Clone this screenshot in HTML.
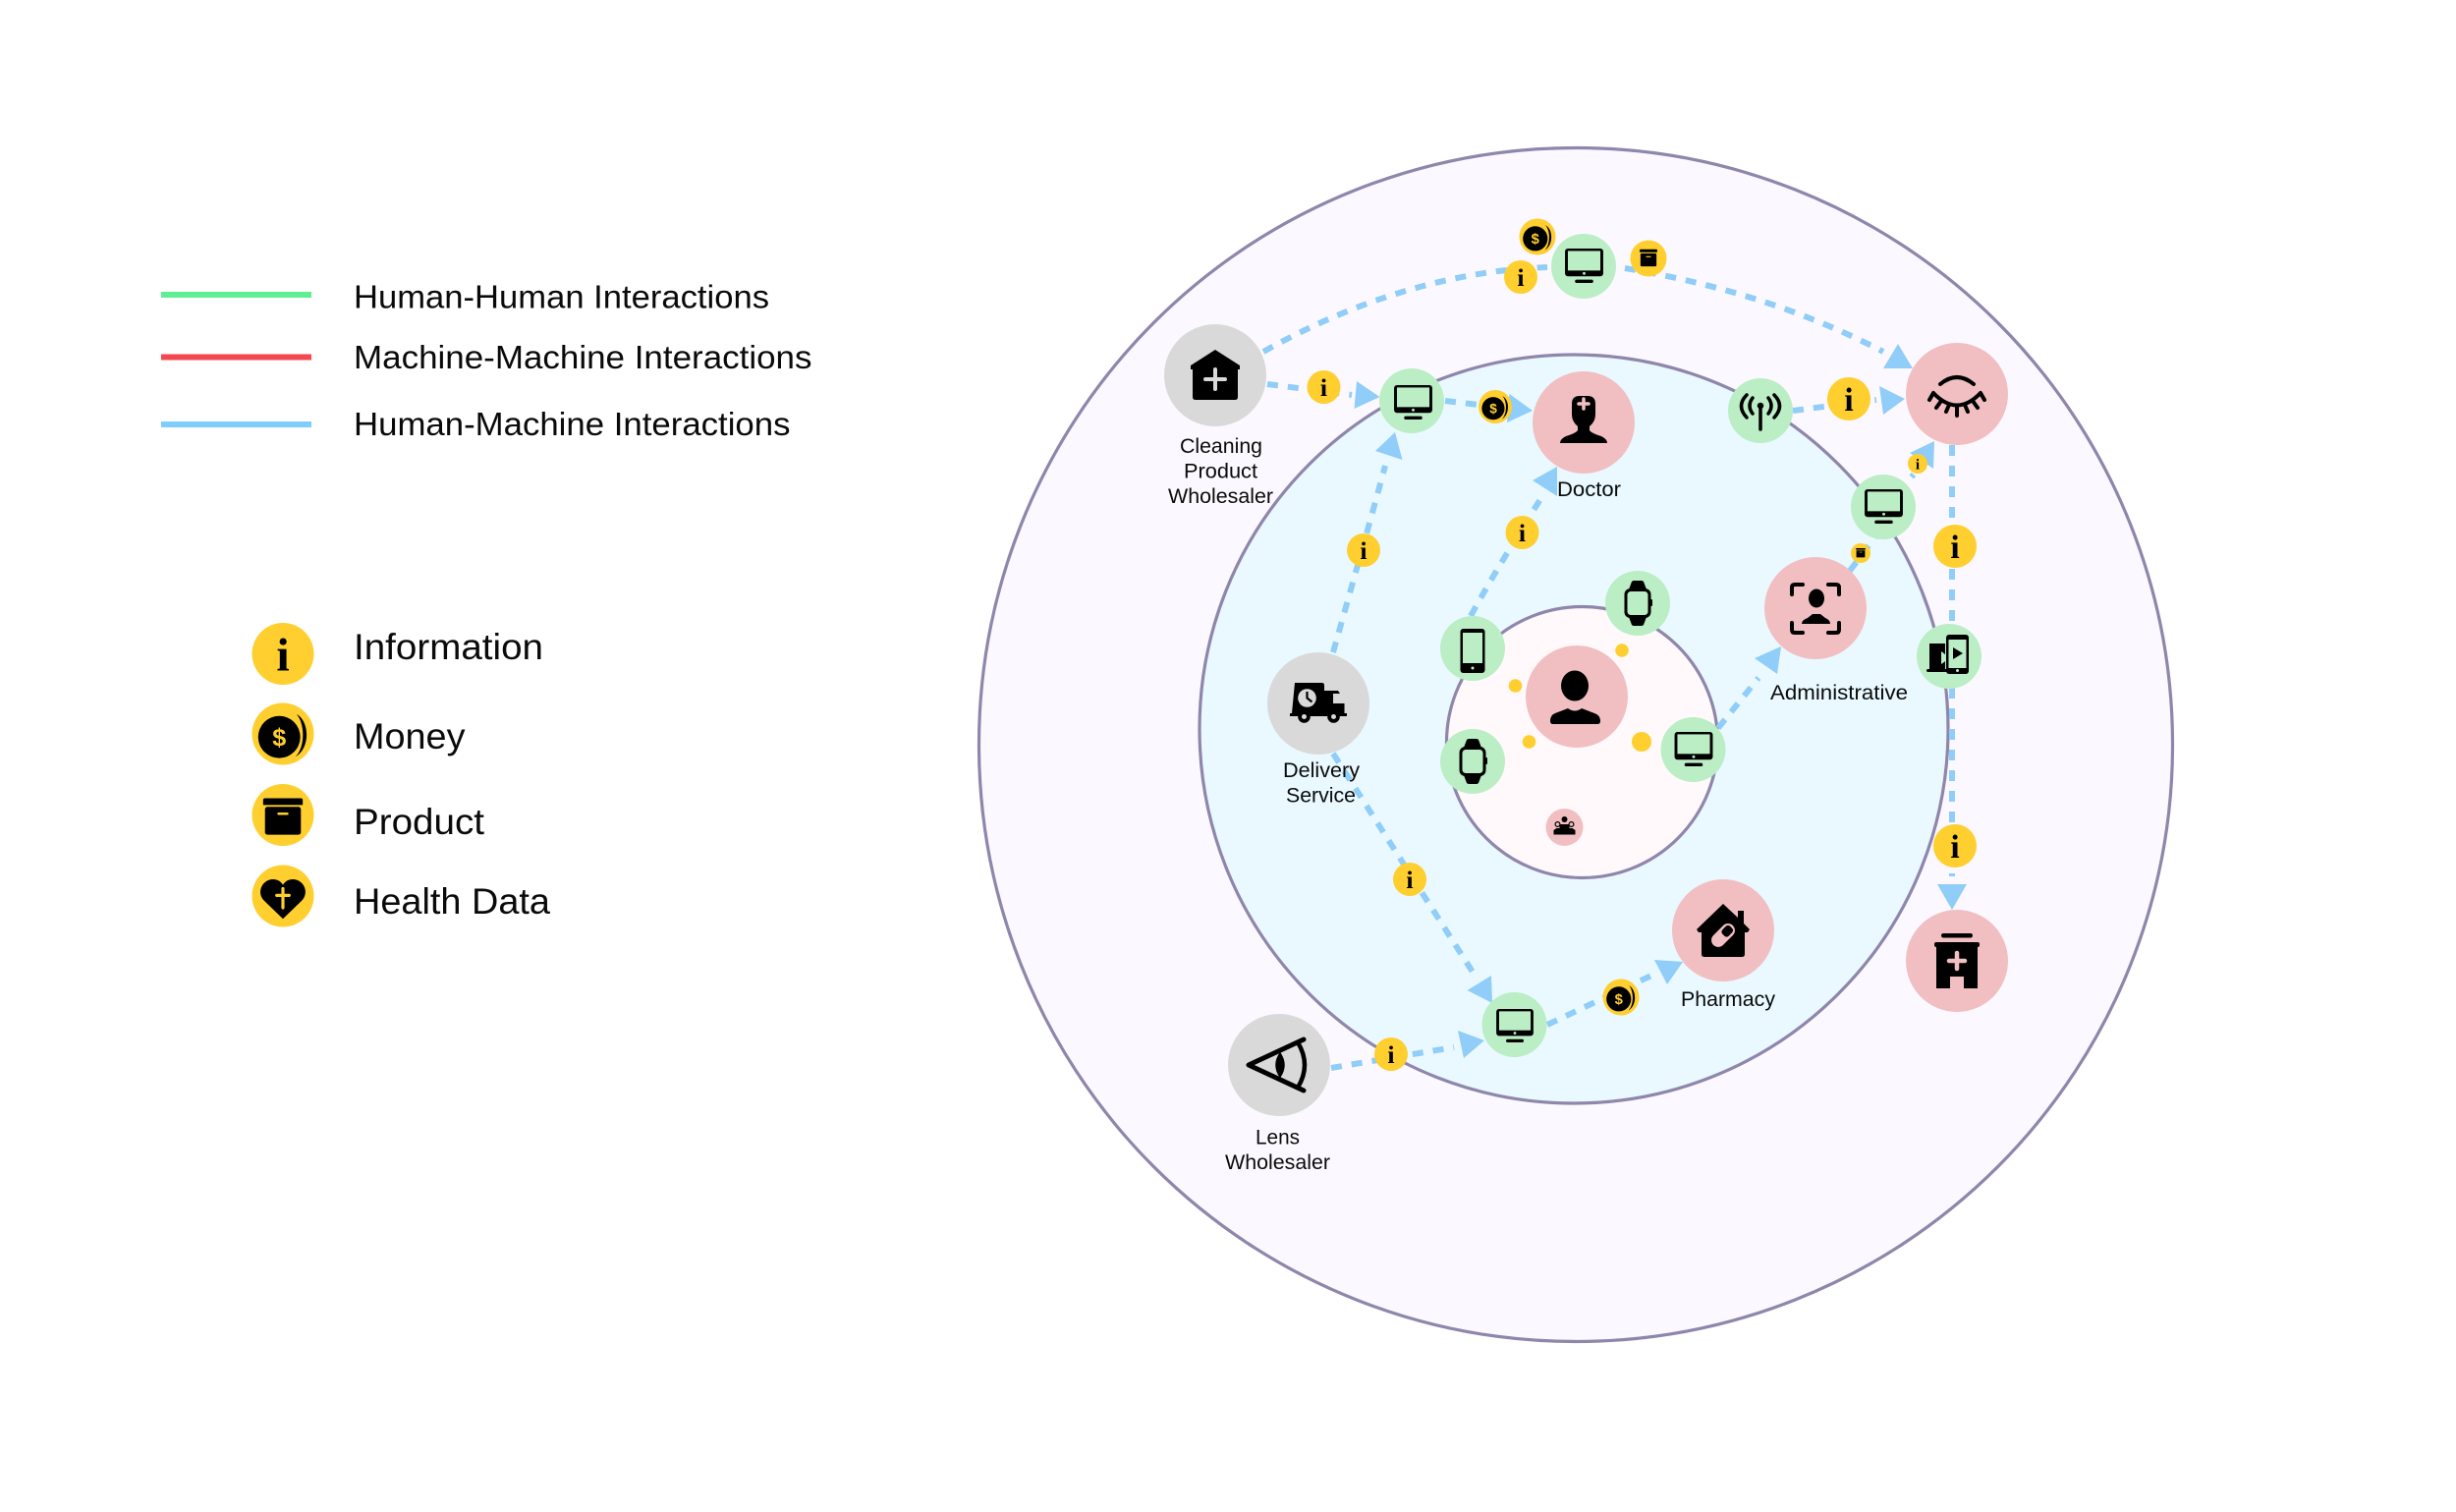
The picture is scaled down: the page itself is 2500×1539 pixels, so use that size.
<!DOCTYPE html>
<html><head><meta charset="utf-8"><style>
html,body{margin:0;padding:0;background:#fff}
svg{display:block}
text{font-family:"Liberation Sans",sans-serif;fill:#0a0a0a}
.leg{font-size:33px}.leg2{font-size:37px}.lb{font-size:21.5px}
.d{fill:none;stroke:#90cdf8;stroke-width:6;stroke-dasharray:11 10}
.a{fill:#90cdf8}
.ring{stroke:#8f86ab;stroke-width:3.2}
</style></head><body>
<svg width="2500" height="1539" viewBox="0 0 2500 1539" xmlns="http://www.w3.org/2000/svg">
<defs>
<symbol id="info" viewBox="-50 -50 100 100" overflow="visible"><circle r="50" fill="#ffce2f"/><text x="0" y="27" text-anchor="middle" style="font-family:'Liberation Serif',serif;font-weight:bold;font-size:76px;fill:#000">i</text></symbol>
<symbol id="coin" viewBox="-50 -50 100 100" overflow="visible"><circle r="50" fill="#ffce2f"/><circle cx="-6" cy="5" r="34" fill="#000"/><path d="M22 -32C36 -16 36 22 20 37C44 24 44 -20 22 -32Z" fill="#000"/><text x="-6" y="19" text-anchor="middle" style="font-family:'Liberation Sans',sans-serif;font-weight:bold;font-size:40px;fill:#ffce2f">$</text></symbol>
<symbol id="prod" viewBox="-50 -50 100 100" overflow="visible"><circle r="50" fill="#ffce2f"/><path d="M-29 -27H29Q32 -27 32 -24V-16H-32V-24Q-32 -27 -29 -27Z" fill="#000"/><rect x="-29" y="-13" width="58" height="45" rx="4" fill="#000"/><rect x="-9" y="-4" width="18" height="4" rx="2" fill="#ffce2f"/></symbol>
<symbol id="prod2" viewBox="-50 -50 100 100" overflow="visible"><circle r="50" fill="#ffce2f"/><path d="M-22 -25H22Q24 -25 24 -23V-17H-24V-23Q-24 -25 -22 -25Z" fill="#000"/><rect x="-22" y="-14" width="44" height="36" rx="3" fill="#000"/><rect x="-7" y="-6" width="14" height="3" rx="1.500" fill="#ffce2f"/></symbol>
<symbol id="heart" viewBox="-50 -50 100 100" overflow="visible"><circle r="50" fill="#ffce2f"/><path d="M0 37L-30 8C-44 -6 -33 -27 -16 -27C-8 -27 -3 -23 0 -18C3 -23 8 -27 16 -27C33 -27 44 -6 30 8Z" fill="#000"/><path d="M0 -12V19M-10 -1H10" stroke="#ffce2f" stroke-width="5" stroke-linecap="round"/></symbol>
<symbol id="mon" viewBox="-20 -18 40 36" overflow="visible"><rect x="-20" y="-18" width="40" height="29" rx="3" fill="#000"/><rect x="-17" y="-15.5" width="34" height="20.5" fill="#bbeec4"/><circle cx="0" cy="8" r="1.5" fill="#bbeec4"/><rect x="-9.5" y="14.5" width="19" height="3.5" rx="1.7" fill="#000"/></symbol>
<symbol id="watch" viewBox="-15 -23 30 46" overflow="visible"><path d="M-9 -14L-6 -22Q-5 -23 -4 -23H4Q5 -23 6 -22L9 -14ZM-9 14L-6 22Q-5 23 -4 23H4Q5 23 6 22L9 14Z" fill="#000"/><rect x="-13.5" y="-15" width="27" height="30" rx="6" fill="#000"/><rect x="-10.5" y="-12" width="21" height="24" rx="3.5" fill="#bbeec4"/><rect x="13" y="-4" width="2" height="7" rx="1" fill="#000"/></symbol>
</defs>

<!-- legend -->
<rect x="164" y="297" width="153" height="6" fill="#5cef94"/>
<rect x="164" y="360.5" width="153" height="6" fill="#f5474f"/>
<rect x="164" y="429" width="153" height="6" fill="#7fcdfd"/>
<text class="leg" x="360" y="313.500" textLength="423" lengthAdjust="spacingAndGlyphs">Human-Human Interactions</text>
<text class="leg" x="360" y="375" textLength="466.500" lengthAdjust="spacingAndGlyphs">Machine-Machine Interactions</text>
<text class="leg" x="360" y="443" textLength="444.500" lengthAdjust="spacingAndGlyphs">Human-Machine Interactions</text>
<use href="#info" x="256.500" y="634" width="63" height="63"/>
<use href="#coin" x="256.500" y="715.500" width="63" height="63"/>
<use href="#prod" x="256.500" y="798" width="63" height="63"/>
<use href="#heart" x="256.500" y="880.500" width="63" height="63"/>
<text class="leg2" x="360" y="671" textLength="193" lengthAdjust="spacingAndGlyphs">Information</text>
<text class="leg2" x="360" y="762" textLength="113.500" lengthAdjust="spacingAndGlyphs">Money</text>
<text class="leg2" x="360" y="849" textLength="133" lengthAdjust="spacingAndGlyphs">Product</text>
<text class="leg2" x="360" y="930" textLength="200" lengthAdjust="spacingAndGlyphs">Health Data</text>

<!-- rings -->
<circle class="ring" cx="1604" cy="758" r="607.500" fill="#fbf9ff"/>
<circle class="ring" cx="1602" cy="742" r="381" fill="#e9f9ff"/>
<circle class="ring" cx="1610.500" cy="755.500" r="138" fill="#fff9fb"/>

<!-- connectors -->
<path class="d" d="M1286 358C1380 305 1480 275 1575 272"/>
<path class="d" d="M1654 273C1745 288 1835 315 1917 358"/>
<path class="d" d="M1290 391L1376 402"/>
<path class="d" d="M1471 408L1505 412"/>
<path class="d" d="M1357 664C1375 600 1395 530 1410 474"/>
<path class="d" d="M1497 627C1520 585 1545 545 1570 505"/>
<path class="d" d="M1825 418L1910 407"/>
<path class="d" d="M1917 516L1948 483"/>
<path class="d" d="M1883 581L1909 546"/>
<path class="d" d="M1987 453V640"/>
<path class="d" d="M1987 700V892"/>
<path class="d" d="M1749 741L1790 690"/>
<path class="d" d="M1357 767L1502 994"/>
<path class="d" d="M1355 1087L1480 1066"/>
<path class="d" d="M1575 1043L1681 993"/>
<!-- arrowheads -->
<polygon class="a" points="1932,350 1917,375 1947,375"/>
<polygon class="a" points="1381,388 1378.500,416 1404.500,404"/>
<polygon class="a" points="1536.500,401 1534,430 1560,418"/>
<polygon class="a" points="1420,440 1400,459 1427.500,468"/>
<polygon class="a" points="1585,475 1560,489 1585,505"/>
<polygon class="a" points="1913,393 1917,422 1939,406"/>
<polygon class="a" points="1969,449 1944,461 1968,477"/>
<polygon class="a" points="1972,900 2002,900 1987,926"/>
<polygon class="a" points="1813,658 1786,670 1809,686"/>
<polygon class="a" points="1518,993 1493.500,1008 1519,1021"/>
<polygon class="a" points="1484,1049 1490,1077 1511,1059"/>
<polygon class="a" points="1684,977 1697,1002 1713,979"/>

<!-- gray nodes -->
<g transform="translate(1237,382)"><circle r="52" fill="#d9d9d9"/><path d="M0 -26L25 -10V-6H23V22Q23 25 20 25H-20Q-23 25 -23 22V-6H-25V-10Z" fill="#000"/><path d="M0 -6V14M-10 4H10" stroke="#d9d9d9" stroke-width="4" stroke-linecap="round"/></g>
<g transform="translate(1342,716)"><circle r="52" fill="#d9d9d9"/><path d="M-24 -21H4Q6 -21 6 -18V-13H20L22 -10H15V0H26.500V10H29V13H-29V10H-27Z" fill="#000"/><circle cx="-11.500" cy="-5.500" r="9.300" fill="#d9d9d9"/><path d="M-11.500 -12V-5.500L-6.500 -1.500" stroke="#000" stroke-width="2.200" fill="none"/><circle cx="-14.500" cy="13.500" r="6.300" fill="#000"/><circle cx="15.500" cy="13.500" r="6.300" fill="#000"/><circle cx="-14.500" cy="13.500" r="2.500" fill="#d9d9d9"/><circle cx="15.500" cy="13.500" r="2.500" fill="#d9d9d9"/></g>
<g transform="translate(1302,1084)"><circle r="52" fill="#d9d9d9"/><path d="M25 -26L-31 0L25 26" fill="none" stroke="#000" stroke-width="5" stroke-linecap="round" stroke-linejoin="round"/><path d="M19 -23Q33 0 19 23" fill="none" stroke="#000" stroke-width="4.500"/><path d="M1 -12Q9 0 1 12Q-7 0 1 -12Z" fill="#000" stroke="#000" stroke-width="1.500"/></g>

<!-- pink nodes -->
<g transform="translate(1612,430)"><circle r="52" fill="#f1bfc1"/><path d="M-12 -19Q-12 -27 -4 -27H4Q12 -27 12 -19V-8Q12 -1 6 4V8Q8 11 18 14Q24 17 24 21H-24Q-24 17 -18 14Q-8 11 -6 8V4Q-12 -1 -12 -8Z" fill="#000"/><path d="M0 -24V-14M-5 -19H5" stroke="#f1bfc1" stroke-width="3.500" stroke-linecap="round"/></g>
<g transform="translate(1605,709)"><circle r="52" fill="#f1bfc1"/><ellipse cx="-2" cy="-11" rx="14" ry="15.500" fill="#000"/><path d="M-27 25Q-27 19 -22 17L-9 12Q-2 17 5 12L18 17Q24 19 24 25Q24 28 21 28H-24Q-27 28 -27 25Z" fill="#000"/></g>
<g transform="translate(1992,401)"><circle r="52" fill="#f1bfc1"/><path d="M-17 -10Q0 -24 17 -10" fill="none" stroke="#000" stroke-width="4" stroke-linecap="round"/><path d="M-24 -1Q0 24 24 -1M-28 6L-24 -1M-21 14L-16 7M-11 18L-8 11M0 22V13M11 18L8 11M21 14L16 7M28 6L24 -1" fill="none" stroke="#000" stroke-width="4" stroke-linecap="round"/></g>
<g transform="translate(1848,619)"><circle r="52" fill="#f1bfc1"/><path d="M-13 -24H-21Q-24 -24 -24 -21V-14M13 -24H21Q24 -24 24 -21V-14M-13 25H-21Q-24 25 -24 22V15M13 25H21Q24 25 24 22V15" fill="none" stroke="#000" stroke-width="4" stroke-linecap="round"/><ellipse cx="1" cy="-10" rx="8" ry="9.500" fill="#000"/><path d="M-14 16Q-14 12 -8 10L-3 6H5L10 10Q15 12 15 16Z" fill="#000"/></g>
<g transform="translate(1992,978)"><circle r="52" fill="#f1bfc1"/><rect x="-16" y="-28" width="32" height="4.500" rx="2.200" fill="#000"/><rect x="-23" y="-19" width="46" height="5" rx="2" fill="#000"/><path d="M-21 -15H21V28H7V16H-7V28H-21Z" fill="#000"/><path d="M0 -8V8M-8 0H8" stroke="#f1bfc1" stroke-width="4.500" stroke-linecap="round"/></g>
<g transform="translate(1754,947)"><circle r="52" fill="#f1bfc1"/><path d="M0 -27L15 -13V-20H21V-7L27 -1L25 2H22V24Q22 27 19 27H-19Q-22 27 -22 24V2H-25L-27 -1Z" fill="#000"/><g transform="translate(0,5) rotate(45)"><rect x="-7" y="-14" width="14" height="28" rx="7" fill="#f1bfc1"/><rect x="-4.500" y="-11.500" width="9" height="11" rx="3" fill="#000"/></g></g>
<g transform="translate(1592.500,842)"><circle r="19" fill="#f1bfc1"/><circle cy="-8" r="3" fill="#000"/><circle cx="-7" cy="-3" r="2.400" fill="none" stroke="#000" stroke-width="1.200"/><circle cx="7" cy="-3" r="2.400" fill="none" stroke="#000" stroke-width="1.200"/><path d="M-11 7.500V3L-8 1H-5V-3H5V1H8L11 3V7.500Z" fill="#000"/></g>

<!-- green nodes -->
<g fill="#bbeec4"><circle cx="1437" cy="408" r="33"/><circle cx="1612" cy="271" r="33"/><circle cx="1792" cy="418" r="33"/><circle cx="1917" cy="516" r="33"/><circle cx="1984" cy="668" r="33"/><circle cx="1667" cy="614" r="33"/><circle cx="1499" cy="660" r="33"/><circle cx="1499" cy="775" r="33"/><circle cx="1723.500" cy="763" r="33"/><circle cx="1541.500" cy="1043" r="33"/></g>
<use href="#mon" x="1419" y="392" width="39" height="35"/>
<use href="#mon" x="1593" y="253" width="39" height="35"/>
<use href="#mon" x="1898" y="498" width="39" height="35"/>
<use href="#mon" x="1704.500" y="745" width="39" height="35"/>
<use href="#mon" x="1523" y="1027" width="38" height="34"/>
<use href="#watch" x="1652" y="591" width="30" height="46"/>
<use href="#watch" x="1484" y="752" width="30" height="46"/>
<g transform="translate(1499,660)"><rect x="-12.500" y="-20" width="25" height="45" rx="3" fill="#000"/><rect x="-10" y="-16" width="20" height="31" fill="#bbeec4"/><circle cy="20" r="1.500" fill="#bbeec4"/></g>
<g transform="translate(1792,418)" fill="none" stroke="#000" stroke-width="3.500" stroke-linecap="round"><path d="M0 -5V19"/><circle cy="-5" r="2.500" fill="#000" stroke-width="1.500"/><path d="M-8 -13Q-14 -5 -8 3M8 -13Q14 -5 8 3M-14 -16Q-25 -5 -14 7M14 -16Q25 -5 14 7"/></g>
<g transform="translate(1984,668)"><path d="M-20 -13H-4V14H-20Z" fill="#000"/><rect x="-23" y="13" width="26" height="3" rx="1.500" fill="#000"/><path d="M-8 -5Q-2 -1 -2 2Q-3 5 -8 8Z" fill="#bbeec4"/><rect x="-3" y="-22" width="23" height="40" rx="3" fill="#000"/><rect x="-.5" y="-17" width="18" height="29" fill="#bbeec4"/><path d="M4 -9L14 -3L4 3Z" fill="#000"/><circle cx="8.500" cy="14.500" r="1.500" fill="#bbeec4"/></g>

<!-- small dots -->
<g fill="#ffce2f"><circle cx="1651" cy="662" r="6.800"/><circle cx="1542.500" cy="698" r="6.800"/><circle cx="1556.500" cy="755" r="6.800"/><circle cx="1671" cy="755" r="10"/></g>

<!-- tokens -->
<use href="#coin" x="1546.500" y="222.500" width="37" height="37"/>
<use href="#info" x="1531" y="265" width="34" height="34"/>
<use href="#prod2" x="1659.500" y="244.500" width="37" height="37"/>
<use href="#info" x="1330.500" y="377" width="34" height="34"/>
<use href="#coin" x="1505" y="397" width="34" height="34"/>
<use href="#info" x="1371" y="543" width="34" height="34"/>
<use href="#info" x="1532.500" y="525" width="34" height="34"/>
<use href="#info" x="1860" y="384" width="44" height="44"/>
<use href="#info" x="1942" y="462" width="20" height="20"/>
<use href="#prod2" x="1884" y="553" width="20" height="20"/>
<use href="#info" x="1968" y="534" width="44" height="44"/>
<use href="#info" x="1968" y="839" width="44" height="44"/>
<use href="#info" x="1418" y="878" width="34" height="34"/>
<use href="#info" x="1399" y="1056" width="34" height="34"/>
<use href="#coin" x="1631.500" y="996.500" width="37" height="37"/>

<!-- labels -->
<text class="lb" x="1201" y="461" textLength="84" lengthAdjust="spacingAndGlyphs">Cleaning</text>
<text class="lb" x="1205" y="486.500" textLength="75" lengthAdjust="spacingAndGlyphs">Product</text>
<text class="lb" x="1189" y="512" textLength="107" lengthAdjust="spacingAndGlyphs">Wholesaler</text>
<text class="lb" x="1585" y="505" textLength="65" lengthAdjust="spacingAndGlyphs">Doctor</text>
<text class="lb" x="1802" y="712" textLength="140" lengthAdjust="spacingAndGlyphs">Administrative</text>
<text class="lb" x="1306" y="791" textLength="78" lengthAdjust="spacingAndGlyphs">Delivery</text>
<text class="lb" x="1309" y="816.500" textLength="71" lengthAdjust="spacingAndGlyphs">Service</text>
<text class="lb" x="1711" y="1024" textLength="96" lengthAdjust="spacingAndGlyphs">Pharmacy</text>
<text class="lb" x="1278" y="1164.500" textLength="45" lengthAdjust="spacingAndGlyphs">Lens</text>
<text class="lb" x="1247" y="1190" textLength="107" lengthAdjust="spacingAndGlyphs">Wholesaler</text>
</svg>
</body></html>
